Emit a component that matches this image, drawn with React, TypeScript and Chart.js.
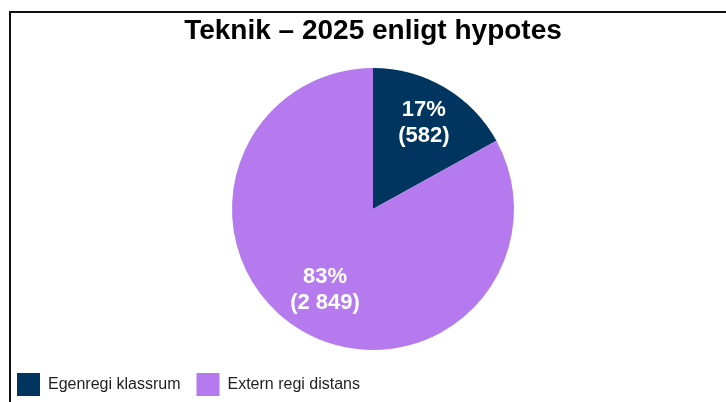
import React, { useEffect, useRef } from "react";
import { Chart, registerables } from "chart.js";

Chart.register(...registerables);

const titleText = "Teknik – 2025 enligt hypotes";
const categories = ["Egenregi klassrum", "Extern regi distans"];
const values = [582, 2849];
const colors = ["#00355F", "#B57BEE"];

const formatNumber = (n: number) =>
  String(n).replace(/\B(?=(\d{3})+(?!\d))/g, " ");

const labelPlugin = {
  id: "sliceLabels",
  afterDatasetsDraw(chart: any) {
    const ctx = chart.ctx;
    const meta = chart.getDatasetMeta(0);
    const data = chart.data.datasets[0].data as number[];
    const total = data.reduce((a, b) => a + b, 0);
    const ratios = [0.71, 0.67];
    ctx.save();
    ctx.fillStyle = "#FFFFFF";
    ctx.font = "bold 22px 'Liberation Sans', Arial, sans-serif";
    ctx.textAlign = "center";
    ctx.textBaseline = "middle";
    meta.data.forEach((arc: any, i: number) => {
      const p = arc.getProps(["x", "y", "startAngle", "endAngle", "outerRadius"], true);
      const mid = (p.startAngle + p.endAngle) / 2;
      const r = p.outerRadius * ratios[i];
      const cx = p.x + Math.cos(mid) * r;
      const cy = p.y + Math.sin(mid) * r;
      const pct = Math.round((data[i] / total) * 100) + "%";
      const val = "(" + formatNumber(data[i]) + ")";
      ctx.fillText(pct, cx, cy - 13);
      ctx.fillText(val, cx, cy + 13);
    });
    ctx.restore();
  },
};

export default function App() {
  const ref = useRef<HTMLCanvasElement | null>(null);

  useEffect(() => {
    if (!ref.current) return;
    const chart = new Chart(ref.current, {
      type: "pie",
      data: {
        labels: categories,
        datasets: [
          {
            data: values,
            backgroundColor: colors,
            borderWidth: 0,
          },
        ],
      },
      plugins: [labelPlugin],
      options: {
        responsive: false,
        animation: false,
        radius: 141,
        layout: { padding: { left: 1, right: 0, top: 13, bottom: 0 } },
        plugins: {
          title: {
            display: true,
            text: titleText,
            color: "#000000",
            font: { family: "'Liberation Sans', Arial, sans-serif", size: 28, weight: "bold" },
            padding: { top: 1, bottom: 13.4 },
          },
          legend: {
            display: true,
            position: "bottom",
            align: "start",
            labels: {
              boxWidth: 23,
              boxHeight: 23,
              padding: 16,
              color: "#1F1F1F",
              font: { family: "'Liberation Sans', Arial, sans-serif", size: 16 },
            },
          },
          tooltip: { enabled: false },
        },
      },
    } as any);
    return () => chart.destroy();
  }, []);

  return (
    <div
      style={{
        position: "fixed",
        left: 0,
        top: 0,
        width: 726,
        height: 402,
        overflow: "hidden",
        background: "#FFFFFF",
      }}
    >
      <canvas
        ref={ref}
        width={745}
        height={406}
        style={{ position: "absolute", left: 0, top: 0, width: 745, height: 406 }}
      />
      <div
        style={{
          position: "absolute",
          left: 9,
          top: 11,
          width: 800,
          height: 500,
          borderTop: "2px solid #111111",
          borderLeft: "2px solid #111111",
          pointerEvents: "none",
        }}
      />
    </div>
  );
}
